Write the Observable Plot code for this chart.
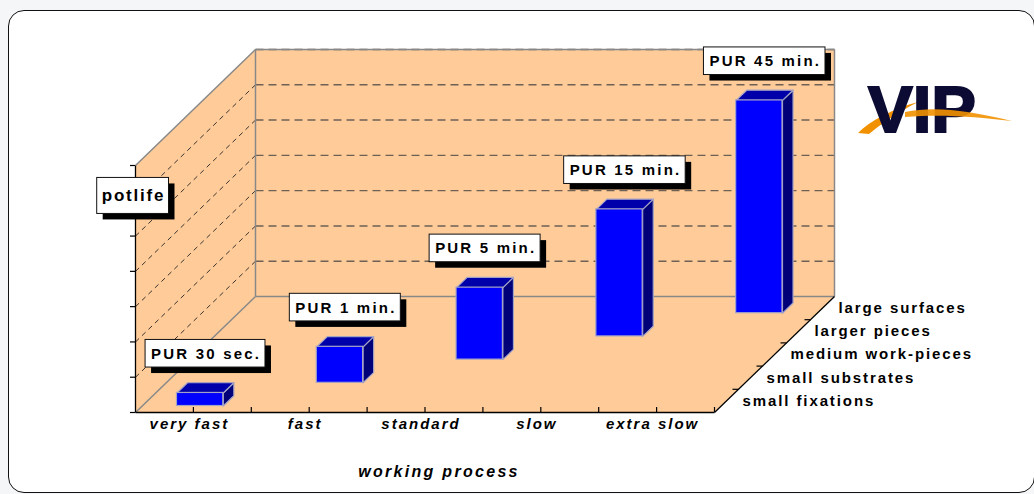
<!DOCTYPE html>
<html>
<head>
<meta charset="utf-8">
<script src="https://cdn.jsdelivr.net/npm/d3@7"></script>
<script src="https://cdn.jsdelivr.net/npm/@observablehq/plot@0.6"></script>
<style>
  html, body { margin: 0; padding: 0; background: #f5f6f8; width: 1034px; height: 494px; overflow: hidden; }
  #panel { position: absolute; left: 8px; top: 10px; width: 1027px; height: 483px; box-sizing: border-box; background: #fff; border: 1.5px solid #111; border-radius: 16px; }
  #chart { position: absolute; left: 0; top: 0; }
  #logo { position: absolute; left: 0; top: 0; pointer-events: none; }
</style>
</head>
<body>
<div id="panel"></div>
<div id="chart"></div>
<svg id="logo" width="1034" height="494">
  <path d="M858,133 C870,121 892,109 918,102 C897,113 881,124 869,134 Z" fill="#f29100"/>
  <text x="868" y="132" font-family="Liberation Sans, Arial, sans-serif" font-weight="bold" font-size="64" textLength="108" lengthAdjust="spacingAndGlyphs" fill="#0b0b33" stroke="#0b0b33" stroke-width="2">VIP</text>
  <path d="M905,112 C935,106 965,110 1012,121 C975,117 945,114 905,117 Z" fill="#f29100" opacity="0.9"/>
</svg>
<script>
// ---------- data ----------
const categories = ["very fast", "fast", "standard", "slow", "extra slow"];
const depthRows = ["small fixations", "small substrates", "medium work-pieces", "larger pieces", "large surfaces"];
const potlife = [0.37, 1.02, 2.04, 3.6, 6.03];
const barLabels = ["PUR 30 sec.", "PUR 1 min.", "PUR 5 min.", "PUR 15 min.", "PUR 45 min."];
const yMax = 7;
const gridValues = [1, 2, 3, 4, 5, 6, 7];
const axisTitle = "potlife";
const xTitle = "working process";

// ---------- layout / projection ----------
const W = 1034, H = 494;
const ML = 135, MR = 320, MT = 165, MB = 82;
const nCat = categories.length, nDepth = depthRows.length;
const pxPerCat = (W - ML - MR) / nCat;
const pxPerVal = (H - MT - MB) / yMax;
const depthDX = 24, depthDY = 23.2;          // pixel shift per depth row
const kx = depthDX / pxPerCat, ky = depthDY / pxPerVal;
const P = (c, v, d) => ({x: c + d * kx, y: v + d * ky});
const poly = (id, pts) => [...pts, pts[0]].map(p => ({id, x: p.x, y: p.y}));
const seg = (a, b) => ({x1: a.x, y1: a.y, x2: b.x, y2: b.y});

const walls = [
  ...poly("left", [P(0, 0, 0), P(0, yMax, 0), P(0, yMax, nDepth), P(0, 0, nDepth)]),
  ...poly("floor", [P(0, 0, 0), P(nCat, 0, 0), P(nCat, 0, nDepth), P(0, 0, nDepth)]),
  ...poly("back", [P(0, 0, nDepth), P(nCat, 0, nDepth), P(nCat, yMax, nDepth), P(0, yMax, nDepth)])
];
const wallEdges = [
  seg(P(0, 0, nDepth), P(nCat, 0, nDepth)),
  seg(P(nCat, 0, nDepth), P(nCat, yMax, nDepth)),
  seg(P(0, 0, nDepth), P(0, yMax, nDepth)),
  seg(P(0, yMax, nDepth), P(nCat, yMax, nDepth)),
  seg(P(0, yMax, 0), P(0, yMax, nDepth)),
  seg(P(0, 0, 0), P(0, 0, nDepth))
];
const axisLines = [
  seg(P(0, 0, 0), P(nCat, 0, 0)),
  seg(P(nCat, 0, 0), P(nCat, 0, nDepth)),
  seg(P(0, 0, 0), P(0, yMax, 0))
];
const backGrid = gridValues.map(v => seg(P(0, v, nDepth), P(nCat, v, nDepth)));
const sideGrid = gridValues.filter(v => v < yMax).map(v => seg(P(0, v, 0), P(0, v, nDepth)));

// bars (each category sits in its own depth row)
const bw0 = 0.3, bw1 = 0.7, bd0 = 0.28, bd1 = 0.72;
const fronts = [], tops = [], sides = [], labelPts = [];
potlife.forEach((v, i) => {
  const c0 = i + bw0, c1 = i + bw1, d0 = i + bd0, d1 = i + bd1;
  const a = P(c0, 0, d0), b = P(c1, v, d0);
  fronts.push({x1: a.x, x2: b.x, y1: a.y, y2: b.y});
  tops.push(...poly("t" + i, [P(c0, v, d0), P(c1, v, d0), P(c1, v, d1), P(c0, v, d1)]));
  sides.push(...poly("s" + i, [P(c1, 0, d0), P(c1, 0, d1), P(c1, v, d1), P(c1, v, d0)]));
  const m = P(i + 0.5, v, d0);
  labelPts.push({label: barLabels[i], x: m.x, y: m.y});
});

const xTicks = d3.range(1, 2 * nCat + 1).map(k => k / 2);
const yTicks = d3.range(0, yMax + 1);
const dTicks = d3.range(1, nDepth);
const barStroke = "#a3a3c6";
const font = "Liberation Sans, Arial, sans-serif";

const chart = Plot.plot({
  width: W, height: H,
  marginLeft: ML, marginRight: MR, marginTop: MT, marginBottom: MB,
  x: {domain: [0, nCat], axis: null},
  y: {domain: [0, yMax], axis: null},
  style: {background: "transparent", overflow: "visible", fontFamily: font},
  marks: [
    Plot.line(walls, {x: "x", y: "y", z: "id", fill: "#ffcc99", stroke: "none"}),
    Plot.link(backGrid, {x1: "x1", y1: "y1", x2: "x2", y2: "y2", stroke: "#6e6055", strokeWidth: 1.4, strokeDasharray: "8,5"}),
    Plot.link(sideGrid, {x1: "x1", y1: "y1", x2: "x2", y2: "y2", stroke: "#222", strokeWidth: 0.9, strokeDasharray: "5,4"}),
    Plot.link(wallEdges, {x1: "x1", y1: "y1", x2: "x2", y2: "y2", stroke: "#888", strokeWidth: 1.5}),
    Plot.link(axisLines, {x1: "x1", y1: "y1", x2: "x2", y2: "y2", stroke: "#000", strokeWidth: 1.3}),
    Plot.ruleX(xTicks, {x: d => d, y1: 0, y2: 5 / pxPerVal, stroke: "#000", strokeWidth: 1.2}),
    Plot.ruleY(yTicks, {y: d => d, x1: -5 / pxPerCat, x2: 0, stroke: "#000", strokeWidth: 1.2}),
    Plot.link(dTicks, {x1: d => P(nCat, 0, d).x - 6 / pxPerCat, x2: d => P(nCat, 0, d).x, y1: d => P(nCat, 0, d).y, y2: d => P(nCat, 0, d).y, stroke: "#000", strokeWidth: 1.2}),
    // bars
    Plot.line(sides, {x: "x", y: "y", z: "id", fill: "#000078", stroke: barStroke, strokeWidth: 1.2}),
    Plot.line(tops, {x: "x", y: "y", z: "id", fill: "#0000aa", stroke: barStroke, strokeWidth: 1.2}),
    Plot.rect(fronts, {x1: "x1", x2: "x2", y1: "y1", y2: "y2", fill: "#0000ff", stroke: barStroke, strokeWidth: 1.2}),
    // texts
    Plot.text(labelPts, {x: "x", y: "y", text: "label", dx: 6, dy: -39, fontSize: 15, fontWeight: "bold", fill: "#000"}),
    Plot.text([axisTitle], {frameAnchor: "top-left", textAnchor: "middle", lineAnchor: "middle", dx: -2, dy: 30, fontSize: 17, fontWeight: "bold", fill: "#000"}),
    Plot.text(categories, {x: (d, i) => i + 0.5, y: 0, dy: 12, dx: -4, fontSize: 15, fontWeight: "bold", fontStyle: "italic", fill: "#000"}),
    Plot.text(depthRows, {x: (d, i) => P(nCat, 0, i + 0.5).x, y: (d, i) => P(nCat, 0, i + 0.5).y, dx: 16, textAnchor: "start", fontSize: 15, fontWeight: "bold", fill: "#000"}),
    Plot.text([xTitle], {frameAnchor: "bottom", textAnchor: "middle", lineAnchor: "middle", dx: 14, dy: 59, fontSize: 16, fontWeight: "bold", fontStyle: "italic", fill: "#000"})
  ]
});
document.getElementById("chart").appendChild(chart);

// letter spacing (the reference text is widely tracked)
const spacing = new Map([
  ...barLabels.map(t => [t, 2.2]),
  [axisTitle, 1.8],
  ...categories.map(t => [t, 2]),
  ...depthRows.map(t => [t, 1.9]),
  [xTitle, 2.3]
]);
const texts = Array.from(chart.querySelectorAll("text"));
texts.forEach(t => {
  const s = spacing.get(t.textContent);
  if (s != null) t.style.letterSpacing = s + "px";
});

// boxed labels with drop shadow
function addBox(t, padX, padY, shadow, ls) {
  const b = t.getBBox();
  const tr = t.getAttribute("transform");
  const mk = (off, fill, stroke) => {
    const r = document.createElementNS("http://www.w3.org/2000/svg", "rect");
    r.setAttribute("x", b.x - padX + off);
    r.setAttribute("y", b.y - padY + off);
    r.setAttribute("width", b.width + 2 * padX - ls);
    r.setAttribute("height", b.height + 2 * padY);
    r.setAttribute("fill", fill);
    r.setAttribute("stroke", stroke);
    r.setAttribute("stroke-width", 1);
    if (tr) r.setAttribute("transform", tr);
    t.parentNode.insertBefore(r, t);
  };
  mk(shadow, "#000", "none");
  mk(0, "#fff", "#111");
}
texts.forEach(t => {
  if (barLabels.includes(t.textContent)) addBox(t, 6, 5.3, 6, 2.2);
  else if (t.textContent === axisTitle) addBox(t, 5, 8.5, 6, 1.8);
});
</script>
</body>
</html>
